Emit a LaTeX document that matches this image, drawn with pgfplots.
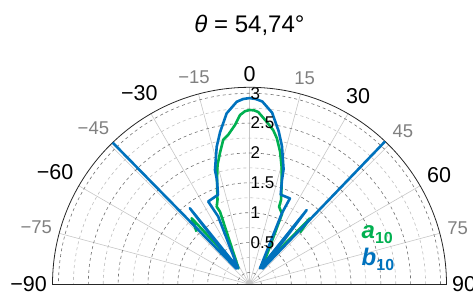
\documentclass[border=0pt]{standalone}
\usepackage{fontspec}
\setmainfont{Liberation Sans}
\usepackage{pgfplots}
\pgfplotsset{compat=1.18}
\usepgfplotslibrary{polar}
\definecolor{mblue}{RGB}{0,114,189}
\definecolor{mgreen}{RGB}{0,176,80}
\definecolor{lbl}{RGB}{128,128,128}
\newcommand\bl[1]{{\fontsize{21.5}{21.5}\selectfont #1}}
\newcommand\gr[1]{{\fontsize{18.5}{18.5}\selectfont\color{lbl}#1}}
\begin{document}
\begin{tikzpicture}[x=1pt,y=1pt]
\useasboundingbox (-249.5,-8.7) rectangle (223.5,284.3);
\begin{polaraxis}[
  at={(0,0)}, anchor=origin,
  scale only axis, width=394pt,
  xmin=0, xmax=180, ymin=0, ymax=3.3,
  x filter/.expression={90-x},
  y filter/.expression={y+0.2},
  xtick={0,15,...,180},
  xticklabels={\bl{90},\gr{75},\bl{60},\gr{45},\bl{30},\gr{15},\bl{0},\gr{−15},\bl{−30},\gr{−45},\bl{−60},\gr{−75},\bl{−90}},
  xticklabel style={inner sep=5.5pt},
  ytick={0.2,0.7,...,3.2},
  minor ytick={0.45,0.95,...,2.95},
  yticklabels={},
  major tick length=0pt, minor tick length=0pt,
  grid=both,
  major x grid style={black!22, line width=0.6pt},
  major y grid style={black!55, dashed, line width=0.6pt},
  minor y grid style={black!25, dashed, line width=0.6pt},
  axis line style={black!85, line width=0.8pt},
]
\addplot[mgreen, line width=2.6pt, line join=round] coordinates {
(-45.1,1.05) (-41.2,1.27) (-34.5,0.125) (-22.1,1.11) (-22.9,1.21) (-20.8,1.31)
(-17.3,1.63) (-15.0,1.87) (-12.5,2.07) (-10.3,2.26) (-8.1,2.33) (-5.2,2.48)
(-3.2,2.64) (-1.5,2.70) (0,2.72) (1.5,2.715) (2.9,2.69) (6.0,2.54) (8.8,2.41) (10.6,2.29)
(13.0,2.08) (15.3,1.84) (17.9,1.55) (20.5,1.31) (20.9,1.19) (24.8,1.10)
(36.5,0.16) (42.5,1.30) (44.3,1.01)
};
\addplot[mblue, line width=2.6pt, line join=round] coordinates {
(-44,3.1) (-40,0.14) (-38.1,1.42) (-35.2,0.13) (-24.8,1.05) (-26.5,1.35)
(-19.4,1.39) (-17.3,1.63) (-16.8,1.80) (-13.4,2.17) (-10.9,2.40) (-7.6,2.69)
(-4.0,2.865) (-2.0,2.905) (0,2.92) (2.0,2.905) (4.0,2.87) (7.5,2.70) (10.8,2.41)
(13.2,2.18) (16.5,1.81) (17.3,1.63) (19.2,1.39) (25.2,1.39) (24.5,1.11)
(33.3,0.12) (37.6,1.37) (40,0.14) (43.5,3.1)
};
\foreach \v/\t in {0.7/0.5,1.2/1,1.7/1.5,2.2/2,2.7/2.5,3.2/3}{
  \edef\temp{\noexpand\node[anchor=west, inner sep=1pt, font=\noexpand\fontsize{17}{17}\noexpand\selectfont] at (axis cs:90,\v) {\t};}
  \temp
}
\end{polaraxis}
\node at (0,259) {\fontsize{24}{24}\selectfont {\itshape θ} = 54,74°};
\node[anchor=west, inner sep=0pt, text=mgreen] at (112,50) {\fontsize{24}{24}\selectfont\bfseries\itshape a\raisebox{-0.2em}{\fontsize{16}{16}\selectfont\upshape 10}};
\node[anchor=west, inner sep=0pt, text=mblue] at (112,25) {\fontsize{24}{24}\selectfont\bfseries\itshape b\raisebox{-0.2em}{\fontsize{16}{16}\selectfont\upshape 10}};
\end{tikzpicture}
\end{document}
